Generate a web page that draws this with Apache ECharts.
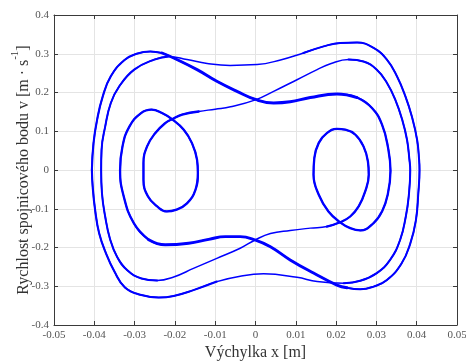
<!DOCTYPE html>
<html>
<head>
<meta charset="utf-8">
<script src="https://cdn.jsdelivr.net/npm/echarts@6/dist/echarts.min.js"></script>
<style>
  html, body { margin: 0; padding: 0; background: #fff; }
  #chart { width: 466px; height: 362px; }
</style>
</head>
<body>
<div id="chart"></div>
<script>
// Phase trajectory: displacement x [m] vs. velocity v [m/s], traced clockwise arc by arc.
const xTicks = [-0.05, 0.05, 0.01];
const vTicks = [-0.4, 0.4, 0.1];

// left outer branch rising to its crest
const arcLeftOuterUp = [[-0.0406,0],[-0.0402,0.069],[-0.0393,0.13],[-0.0379,0.19],[-0.0359,0.242],[-0.0325,0.284],[-0.0295,0.3],[-0.0261,0.306],[-0.0232,0.302]];
// descending band across the middle
const arcTopBand = [[-0.0232,0.302],[-0.0203,0.289],[-0.0145,0.259],[-0.0096,0.229],[-0.0046,0.203],[0,0.182],[0.0045,0.173],[0.0086,0.176],[0.0136,0.187],[0.0202,0.196],[0.0252,0.187]];
// right third branch and the right inner loop
const arcRightInner = [[0.0252,0.187],[0.0289,0.16],[0.0314,0.117],[0.0329,0.057],[0.0335,-0.002],[0.0328,-0.064],[0.0314,-0.107],[0.0293,-0.137],[0.026,-0.156],[0.0235,-0.15],[0.021,-0.135],[0.0181,-0.107],[0.0157,-0.064],[0.0144,-0.012],[0.0146,0.031],[0.0157,0.07],[0.0177,0.095],[0.0202,0.106],[0.0223,0.104],[0.0248,0.091],[0.0268,0.061],[0.0279,0.022],[0.0281,-0.012],[0.0272,-0.056],[0.0256,-0.094],[0.0235,-0.12],[0.021,-0.135],[0.0177,-0.146]];
// thin crossing line down to the left second branch
const arcLowerCross = [[0.0177,-0.146],[0.0136,-0.15],[0.0086,-0.156],[0.0037,-0.164],[0,-0.18],[-0.0038,-0.202],[-0.0096,-0.228],[-0.0154,-0.254],[-0.0203,-0.276],[-0.0244,-0.285]];
// left second branch, bottom to top
const arcLeftSecond = [[-0.0244,-0.285],[-0.0283,-0.28],[-0.0318,-0.259],[-0.0343,-0.225],[-0.0361,-0.178],[-0.0373,-0.12],[-0.0381,-0.06],[-0.0383,0],[-0.0382,0.052],[-0.0373,0.112],[-0.0359,0.173],[-0.0338,0.216],[-0.0301,0.259],[-0.0251,0.285],[-0.0216,0.293]];
// thin upper line to the right outer crest
const arcTopThin = [[-0.0216,0.293],[-0.017,0.285],[-0.012,0.275],[-0.0063,0.27],[0.0004,0.272],[0.0062,0.284],[0.0119,0.302]];
// right outer branch
const arcRightOuter = [[0.0119,0.302],[0.0169,0.319],[0.021,0.328],[0.0252,0.329],[0.0293,0.315],[0.0326,0.285],[0.0351,0.242],[0.0372,0.19],[0.0388,0.138],[0.0401,0.078],[0.0406,0.026],[0.0407,0],[0.0404,-0.06],[0.0398,-0.13],[0.0384,-0.19],[0.0362,-0.242],[0.0326,-0.284],[0.0293,-0.301],[0.026,-0.308],[0.0227,-0.304]];
// rising band across the middle
const arcBottomBand = [[0.0227,-0.304],[0.0202,-0.297],[0.0144,-0.266],[0.0086,-0.232],[0.0037,-0.198],[0,-0.181],[-0.0038,-0.172],[-0.0075,-0.172],[-0.0116,-0.179],[-0.0166,-0.189],[-0.0224,-0.193],[-0.0265,-0.18]];
// left third branch and the left inner loop
const arcLeftInner = [[-0.0265,-0.18],[-0.0302,-0.137],[-0.0327,-0.068],[-0.0336,0],[-0.033,0.061],[-0.0313,0.112],[-0.0284,0.147],[-0.0258,0.156],[-0.0232,0.147],[-0.0207,0.131],[-0.0178,0.104],[-0.0158,0.07],[-0.0145,0.026],[-0.0143,-0.008],[-0.0149,-0.051],[-0.017,-0.086],[-0.0198,-0.103],[-0.022,-0.107],[-0.0244,-0.094],[-0.0267,-0.068],[-0.0278,-0.025],[-0.0278,0.018],[-0.0269,0.061],[-0.0249,0.095],[-0.0224,0.121],[-0.0207,0.131],[-0.0182,0.143],[-0.0141,0.151]];
// thin crossing line up to the right second branch
const arcUpperCross = [[-0.0141,0.151],[-0.01,0.157],[-0.0062,0.163],[0,0.181],[0.0045,0.203],[0.0103,0.233],[0.0153,0.259],[0.0186,0.274],[0.0231,0.285]];
// right second branch, top to bottom
const arcRightSecond = [[0.0231,0.285],[0.0268,0.28],[0.0301,0.259],[0.0326,0.225],[0.0347,0.181],[0.0364,0.13],[0.0376,0.078],[0.0382,0.026],[0.0384,0],[0.038,-0.07],[0.0373,-0.12],[0.0359,-0.18],[0.0334,-0.232],[0.0301,-0.266],[0.026,-0.286],[0.0219,-0.292]];
// thin lower line to the left outer trough
const arcBottomThin = [[0.0219,-0.292],[0.0153,-0.288],[0.0103,-0.277],[0.002,-0.268],[-0.0038,-0.274],[-0.0096,-0.288]];
// left outer branch back to the start
const arcLeftOuterDown = [[-0.0096,-0.288],[-0.0154,-0.31],[-0.0203,-0.325],[-0.024,-0.329],[-0.0286,-0.322],[-0.0324,-0.303],[-0.035,-0.262],[-0.0371,-0.215],[-0.0388,-0.163],[-0.0398,-0.103],[-0.0404,-0.043],[-0.0406,0]];

// arcs in travel order, with the stroke weight each one shows
const arcs = [
  [arcLeftOuterUp, 2.1], [arcTopBand, 2.9], [arcRightInner, 2.3], [arcLowerCross, 1.5],
  [arcLeftSecond, 2.0], [arcTopThin, 1.5], [arcRightOuter, 2.0], [arcBottomBand, 2.9],
  [arcLeftInner, 2.3], [arcUpperCross, 1.5], [arcRightSecond, 2.0], [arcBottomThin, 1.5],
  [arcLeftOuterDown, 2.1]
];

// whole closed orbit as one path (shared joints dropped), running a little past the start
const orbit = [];
arcs.forEach(([pts], i) => pts.forEach((p, j) => { if (i === 0 || j > 0) orbit.push(p); }));
orbit.push(arcLeftOuterUp[1], arcLeftOuterUp[2]);

const font = '"Liberation Serif", "Times New Roman", serif';
const gridColor = '#e4e4e4';
const axisColor = '#3a3a3a';
const blue = '#0000ff';

function mainAxis(range, extra) {
  return Object.assign({
    type: 'value', min: range[0], max: range[1], interval: range[2],
    axisLine: { show: true, onZero: false, lineStyle: { color: axisColor, width: 1 } },
    axisTick: { show: true, inside: true, length: 4, lineStyle: { color: axisColor } },
    splitLine: { show: true, lineStyle: { color: gridColor, width: 1 } }
  }, extra);
}
function mirrorAxis(range, extra) {
  return Object.assign({
    type: 'value', min: range[0], max: range[1], interval: range[2],
    axisLine: { show: true, onZero: false, lineStyle: { color: axisColor, width: 1 } },
    axisTick: { show: true, inside: true, length: 4, lineStyle: { color: axisColor } },
    splitLine: { show: false }, axisLabel: { show: false }
  }, extra);
}

const lineBase = { type: 'line', xAxisIndex: 0, yAxisIndex: 0, smooth: 0.45,
  showSymbol: false, symbol: 'none', clip: false, silent: true };

const series = [Object.assign({}, lineBase, {
  data: orbit, lineStyle: { color: blue, width: 1.5, cap: 'round', join: 'round' }
})];
arcs.forEach(([pts, w]) => {
  if (w > 1.5) series.push(Object.assign({}, lineBase, {
    data: pts, lineStyle: { color: blue, width: w, cap: 'round', join: 'round' }
  }));
});

const chart = echarts.init(document.getElementById('chart'), null, { renderer: 'canvas' });
chart.setOption({
  animation: false,
  backgroundColor: '#fff',
  grid: { left: 54, right: 9, top: 15, bottom: 37, containLabel: false, outerBoundsMode: 'none' },
  xAxis: [
    mainAxis(xTicks, {
      position: 'bottom',
      name: 'Výchylka x [m]', nameLocation: 'middle', nameGap: 20, nameMoveOverlap: false,
      nameTextStyle: { color: '#333', fontFamily: font, fontSize: 16 },
      axisLabel: { color: '#555', fontFamily: font, fontSize: 11, margin: 5 }
    }),
    mirrorAxis(xTicks, { position: 'top' })
  ],
  yAxis: [
    mainAxis(vTicks, {
      position: 'left',
      name: '{a|Rychlost spojnicového bodu v [m · s}{s|-1}{a|]}',
      nameLocation: 'middle', nameGap: 22, nameRotate: 90, nameMoveOverlap: false,
      nameTextStyle: {
        color: '#333', fontFamily: font, fontSize: 16,
        rich: {
          a: { color: '#333', fontFamily: font, fontSize: 16, lineHeight: 22, verticalAlign: 'bottom' },
          s: { color: '#333', fontFamily: font, fontSize: 11, lineHeight: 22, verticalAlign: 'top' }
        }
      },
      axisLabel: { color: '#555', fontFamily: font, fontSize: 11, margin: 5 }
    }),
    mirrorAxis(vTicks, { position: 'right' })
  ],
  series: series
});
</script>
</body>
</html>
